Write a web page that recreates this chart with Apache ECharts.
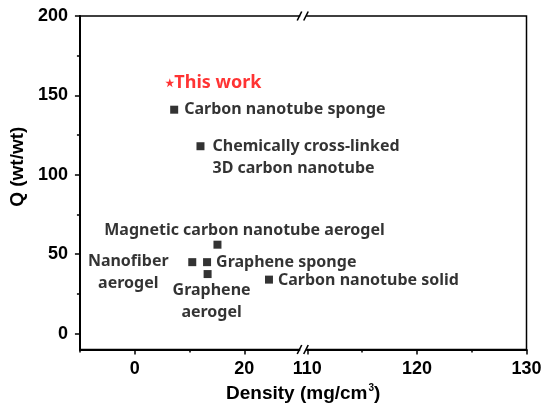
<!DOCTYPE html>
<html>
<head>
<meta charset="utf-8">
<script src="https://cdn.jsdelivr.net/npm/echarts@6/dist/echarts.min.js"></script>
<style>
html,body{margin:0;padding:0;background:#fff;}
#chart{width:550px;height:408px;}
</style>
</head>
<body>
<div id="chart"></div>
<script>
// ---- data ----
const materials = ['Carbon nanotube sponge', 'Chemically cross-linked\n3D carbon nanotube', 'Magnetic carbon nanotube aerogel', 'Nanofiber\naerogel', 'Graphene sponge', 'Graphene\naerogel', 'Carbon nanotube solid'];
const density = [7.2, 12.0, 15.1, 10.5, 13.2, 13.3, 24.5];
const capacity = [141, 118, 56, 45, 45, 37.5, 34];
const thisWorkName = ['This work'];
const thisWorkDensity = [6.4];
const thisWorkCapacity = [158];
const xMajorTicks = [0, 20, 110, 120, 130];
const xMinorTicks = [-10, 10, 115, 125];
const yMajorTicks = [0, 50, 100, 150, 200];
const yMinorTicks = [25, 75, 125, 175];

// ---- broken-axis transform: left segment -10..30, right segment 110..130 at 2x scale ----
const BREAK_LO = 30, BREAK_HI = 110, RIGHT_START = 31.5, RIGHT_SCALE = 2;
function toT(x) { return x <= BREAK_LO ? x : RIGHT_START + (x - BREAK_HI) * RIGHT_SCALE; }
function fromT(t) { return t <= (BREAK_LO + RIGHT_START) / 2 ? t : BREAK_HI + (t - RIGHT_START) / RIGHT_SCALE; }
const tMin = toT(-10), tMax = toT(130);

// label placement styles (per material)
const labelStyles = {
  'Carbon nanotube sponge': {position: 'right', offset: [1, 0]},
  'Chemically cross-linked\n3D carbon nanotube': {position: 'right', offset: [3, 11.5], align: 'left'},
  'Magnetic carbon nanotube aerogel': {position: 'inside', offset: [27, -14]},
  'Nanofiber\naerogel': {position: 'inside', offset: [-64, 10], align: 'center'},
  'Graphene sponge': {position: 'right', offset: [0, 0]},
  'Graphene\naerogel': {position: 'inside', offset: [4, 27], align: 'center'},
  'Carbon nanotube solid': {position: 'right', offset: [0, 0.5]}
};

const labelFont = {fontFamily: 'Noto Sans', fontWeight: 'bold', fontSize: 16, lineHeight: 22, color: '#000'};
const axisFont = {fontFamily: 'Liberation Sans', fontWeight: 'bold', fontSize: 18, color: '#000'};

const matData = materials.map((n, i) => ({
  name: n,
  value: [toT(density[i]), capacity[i]],
  label: Object.assign({show: true, formatter: n}, labelFont, labelStyles[n])
}));
const twData = thisWorkName.map((n, i) => ({
  name: n,
  value: [toT(thisWorkDensity[i]), thisWorkCapacity[i]],
  label: Object.assign({show: true, formatter: n, position: 'right', offset: [-5, 0]}, labelFont, {fontSize: 18, color: '#ff0000'})
}));

const starPath = 'path://M50,0 L61.8,35.1 L98.9,35.1 L69.1,56.9 L80.3,91.9 L50,70 L19.7,91.9 L30.9,56.9 L1.1,35.1 L38.2,35.1 Z';

const chart = echarts.init(document.getElementById('chart'), null, {renderer: 'canvas'});
const option = {
  animation: false,
  backgroundColor: '#fff',
  grid: {left: 74, right: 23.5, top: 16, bottom: 55.3, show: true, borderColor: '#000', borderWidth: 1.5, backgroundColor: 'transparent'},
  xAxis: [{
    type: 'value', min: tMin, max: tMax, position: 'bottom',
    splitLine: {show: false},
    axisLine: {show: true, onZero: false, lineStyle: {color: '#000', width: 2}},
    axisTick: {show: true, inside: false, length: 5, lineStyle: {color: '#000', width: 1.5}, customValues: xMajorTicks.map(toT)},
    axisLabel: Object.assign({show: true, margin: 11, customValues: xMajorTicks.map(toT), formatter: v => String(Math.round(fromT(v)))}, axisFont),
    name: '{a|Density (mg/cm}{s|3}{a|)}',
    nameLocation: 'middle', nameGap: 34,
    nameTextStyle: {rich: {
      a: {fontFamily: 'Liberation Sans', fontWeight: 'bold', fontSize: 19, color: '#000'},
      s: {fontFamily: 'Liberation Sans', fontWeight: 'bold', fontSize: 10, color: '#000', verticalAlign: 'top', padding: [0, 0, 10, 1]}
    }}
  }, {
    type: 'value', min: tMin, max: tMax, position: 'bottom', gridIndex: 0,
    splitLine: {show: false},
    axisLine: {show: false, onZero: false},
    axisTick: {show: true, inside: false, length: 3, lineStyle: {color: '#000', width: 1.5}, customValues: xMinorTicks.map(toT)},
    axisLabel: {show: false}
  }],
  yAxis: [{
    type: 'value', min: -10, max: 200, position: 'left',
    splitLine: {show: false},
    axisLine: {show: true, onZero: false, lineStyle: {color: '#000', width: 2}},
    axisTick: {show: true, inside: false, length: 5, lineStyle: {color: '#000', width: 1.5}, customValues: yMajorTicks},
    axisLabel: Object.assign({show: true, margin: 12, customValues: yMajorTicks}, axisFont),
    name: 'Q (wt/wt)', nameLocation: 'middle', nameGap: 48,
    nameTextStyle: {fontFamily: 'Liberation Sans', fontWeight: 'bold', fontSize: 19, color: '#000', padding: [0, 0, 0, 32]}
  }, {
    type: 'value', min: -10, max: 200, position: 'left', gridIndex: 0,
    splitLine: {show: false},
    axisLine: {show: false, onZero: false},
    axisTick: {show: true, inside: false, length: 3, lineStyle: {color: '#000', width: 1.5}, customValues: yMinorTicks},
    axisLabel: {show: false}
  }],
  series: [{
    type: 'scatter', xAxisIndex: 0, yAxisIndex: 0,
    symbol: 'rect', symbolSize: 8,
    itemStyle: {color: '#000'},
    data: matData
  }, {
    type: 'scatter', xAxisIndex: 0, yAxisIndex: 0,
    symbol: starPath, symbolSize: 9,
    itemStyle: {color: '#ff0000'},
    data: twData
  }]
};
chart.setOption(option);

// axis-break marks at the top and bottom frame lines
const bx = chart.convertToPixel({xAxisIndex: 0}, (BREAK_LO + RIGHT_START) / 2);
const yTop = chart.convertToPixel({yAxisIndex: 0}, 200);
const yBot = chart.convertToPixel({yAxisIndex: 0}, -10);
function breakMark(y) {
  return [
    {type: 'rect', shape: {x: bx - 3, y: y - 2, width: 6, height: 4}, style: {fill: '#fff'}, z: 100},
    {type: 'line', shape: {x1: bx - 6, y1: y + 4.5, x2: bx - 1.5, y2: y - 4.5}, style: {stroke: '#000', lineWidth: 1.6}, z: 101},
    {type: 'line', shape: {x1: bx + 0.5, y1: y + 4.5, x2: bx + 5, y2: y - 4.5}, style: {stroke: '#000', lineWidth: 1.6}, z: 101}
  ];
}
chart.setOption({graphic: breakMark(yTop).concat(breakMark(yBot))});
</script>
</body>
</html>
